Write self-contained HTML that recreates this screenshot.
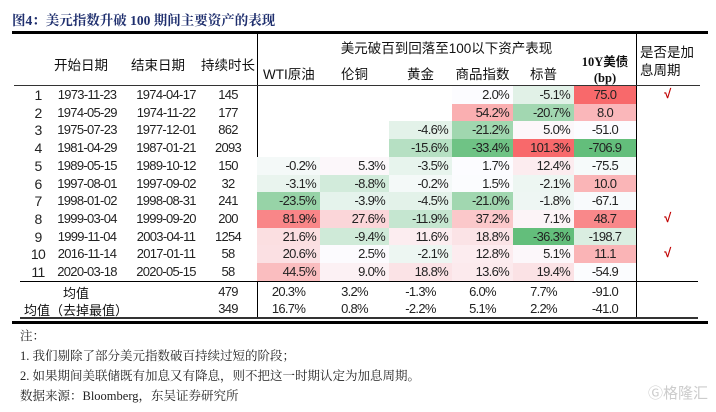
<!DOCTYPE html>
<html><head><meta charset="utf-8">
<style>
body{margin:0;background:#fff;}
#wrap{position:relative;width:716px;height:412px;overflow:hidden;background:#fff;font-family:"Liberation Sans","Noto Sans CJK SC",sans-serif;color:#222;}
.a{position:absolute;white-space:nowrap;}
.num{font-size:13px;letter-spacing:-0.7px;}
.hd{font-size:13.5px;color:#111;}
.serif{font-family:"Liberation Serif","Noto Serif CJK SC",serif;}
</style></head><body>
<div id="wrap">
<div class="a serif" style="left:12px;top:9px;font-size:13.5px;font-weight:bold;color:#1f2f6e;">图4：美元指数升破 100 期间主要资产的表现</div>
<div class="a" style="left:12px;top:31px;width:696px;height:2.5px;background:#000;"></div>
<div class="a" style="left:257px;top:33px;width:1.3px;height:284px;background:#000;"></div>
<div class="a" style="left:636px;top:33px;width:1.3px;height:284px;background:#000;"></div>
<div class="a" style="left:14px;top:85px;width:686px;height:1.3px;background:#333;"></div>
<div class="a" style="left:20px;top:281px;width:678px;height:1.2px;background:#000;"></div>
<div class="a" style="left:20px;top:317px;width:678px;height:1.5px;background:#333;"></div>
<div class="a" style="left:12px;top:321px;width:696px;height:2.5px;background:#000;"></div>

<div class="a hd" style="left:257px;width:379px;text-align:center;top:37px;">美元破百到回落至100以下资产表现</div>
<div class="a hd" style="left:50px;width:62px;text-align:center;top:54px;">开始日期</div>
<div class="a hd" style="left:127px;width:62px;text-align:center;top:54px;">结束日期</div>
<div class="a hd" style="left:197px;width:62px;text-align:center;top:54px;">持续时长</div>
<div class="a hd" style="left:640px;top:44px;line-height:18px;">是否是加<br>息周期</div>
<div class="a hd" style="left:574px;width:62px;text-align:center;top:54px;line-height:16px;font-family:'Liberation Serif','Noto Sans CJK SC',serif;font-weight:bold;font-size:12.5px;">10Y美债<br>(bp)</div>
<div id="tbl"></div>

<div class="a serif" style="left:20px;top:326px;font-size:12.5px;">注：</div>
<div class="a serif" style="left:20px;top:346px;font-size:12.5px;">1. 我们剔除了部分美元指数破百持续过短的阶段；</div>
<div class="a serif" style="left:20px;top:366px;font-size:12.5px;">2. 如果期间美联储既有加息又有降息，则不把这一时期认定为加息周期。</div>
<div class="a serif" style="left:20px;top:386px;font-size:12.5px;">数据来源：Bloomberg，东吴证券研究所</div>
<div class="a" style="left:648px;top:382px;font-size:15px;color:#ccc;">Ⓖ格隆汇</div>
</div>
<script>
const starts=["1973-11-23","1974-05-29","1975-07-23","1981-04-29","1989-05-15","1997-08-01","1998-01-02","1999-03-04","1999-11-04","2016-11-14","2020-03-18"];
const ends=["1974-04-17","1974-11-22","1977-12-01","1987-01-21","1989-10-12","1997-09-02","1998-08-31","1999-09-20","2003-04-11","2017-01-11","2020-05-15"];
const durations=[145,177,862,2093,150,32,241,200,1254,58,58];
const wti=[null,null,null,null,-0.2,-3.1,-23.5,81.9,21.6,20.6,44.5];
const copper=[null,null,null,null,5.3,-8.8,-3.9,27.6,-9.4,2.5,9.0];
const gold=[null,null,-4.6,-15.6,-3.5,-0.2,-4.5,-11.9,11.6,-2.1,18.8];
const commodity=[2.0,54.2,-21.2,-33.4,1.7,1.5,-21.0,37.2,18.8,12.8,13.6];
const spx=[-5.1,-20.7,5.0,101.3,12.4,-2.1,-1.8,7.1,-36.3,5.1,19.4];
const bond=[75.0,8.0,-51.0,-706.9,-75.5,10.0,-67.1,48.7,-198.7,11.1,-54.9];
const hikeCycle=[true,false,false,false,false,false,false,true,false,true,false];
const colNames=["WTI原油","伦铜","黄金","商品指数","标普"];
const avgLabels=["均值","均值（去掉最值）"];
const avgDuration=["479","349"];
const avgValues=[["20.3%","3.2%","-1.3%","6.0%","7.7%","-91.0"],["16.7%","0.8%","-2.2%","5.1%","2.2%","-41.0"]];

const wrap=document.getElementById('wrap');
const colX=[257,320,389,452,513,574,636];
const rowTop=86,rowH=17.7;
function rowY(i){return rowTop+i*rowH;}
function mk(cls,txt,style){const d=document.createElement('div');d.className='a '+cls;d.textContent=txt;d.style.cssText=style;wrap.appendChild(d);return d;}
function mix(a,b,t){return a.map((v,k)=>Math.round(v+(b[k]-v)*t));}
function scaleOf(vals){
  const s=vals.filter(x=>x!==null).slice().sort((a,b)=>a-b);
  const n=s.length;
  return {mn:s[0],mx:s[n-1],med:n%2?s[(n-1)/2]:(s[n/2-1]+s[n/2])/2};
}
function colorFor(sc,v){
  const R=[248,105,107],W=[252,252,255],G=[99,190,123];
  let c;
  if(v>=sc.med)c=mix(W,R,sc.mx===sc.med?0:(v-sc.med)/(sc.mx-sc.med));else c=mix(W,G,(sc.med-v)/(sc.med-sc.mn));
  return 'rgb('+c.join(',')+')';
}
const series=[wti,copper,gold,commodity,spx,bond];
const pctScale=scaleOf([].concat(wti,copper,gold,commodity,spx));
const bondScale=scaleOf(bond);
colNames.forEach((nm,j)=>{
  const h=mk('hd',nm,`left:${colX[j]}px;width:${colX[j+1]-colX[j]}px;top:63px;`+(j==0?'padding-left:6px;':'text-align:center;'));
  
  
});
for(let i=0;i<starts.length;i++){
  const y=rowY(i);
  let e=mk('num',String(i+1),`left:28px;width:20px;text-align:center;top:${y+1}px;font-size:14px;`);
  
  
  e=mk('num',starts[i],`left:52px;width:70px;text-align:center;top:${y+1}px;`);
  
  
  e=mk('num',ends[i],`left:131px;width:70px;text-align:center;top:${y+1}px;`);
  
  
  e=mk('num',String(durations[i]),`left:200px;width:56px;text-align:center;top:${y+1}px;`);
  
  
  series.forEach((vals,j)=>{
    const v=vals[i];if(v===null)return;
    const isBond=j===5;
    const txt=isBond?v.toFixed(1):v.toFixed(1)+'%';
    const bg=colorFor(isBond?bondScale:pctScale,v);
    const c=mk('num',txt,`left:${colX[j]}px;width:${colX[j+1]-colX[j]-(isBond?0:4)}px;top:${y}px;height:${rowH+0.5}px;line-height:${rowH+1}px;background:${bg};text-align:${isBond?'center':'right'};`+(isBond?'':'padding-right:4px;'));
    
    
  });
  if(hikeCycle[i]){
    const k=mk('','√',`left:659px;width:16px;text-align:center;top:${y}px;color:#c00000;font-size:13px;font-weight:bold;font-style:italic;`);
    
    
  }
}
avgLabels.forEach((lb,r)=>{
  const y=283+r*17;
  let e=mk('hd',lb,`left:20px;width:112px;text-align:center;top:${y}px;font-size:13px;`);
  
  
  e=mk('num',avgDuration[r],`left:200px;width:56px;text-align:center;top:${y+1}px;`);
  
  
  avgValues[r].forEach((t,j)=>{
    const c=mk('num',t,`left:${colX[j]}px;width:${colX[j+1]-colX[j]}px;text-align:center;top:${y+1}px;`);
    
    
  });
});
</script>
</body></html>
